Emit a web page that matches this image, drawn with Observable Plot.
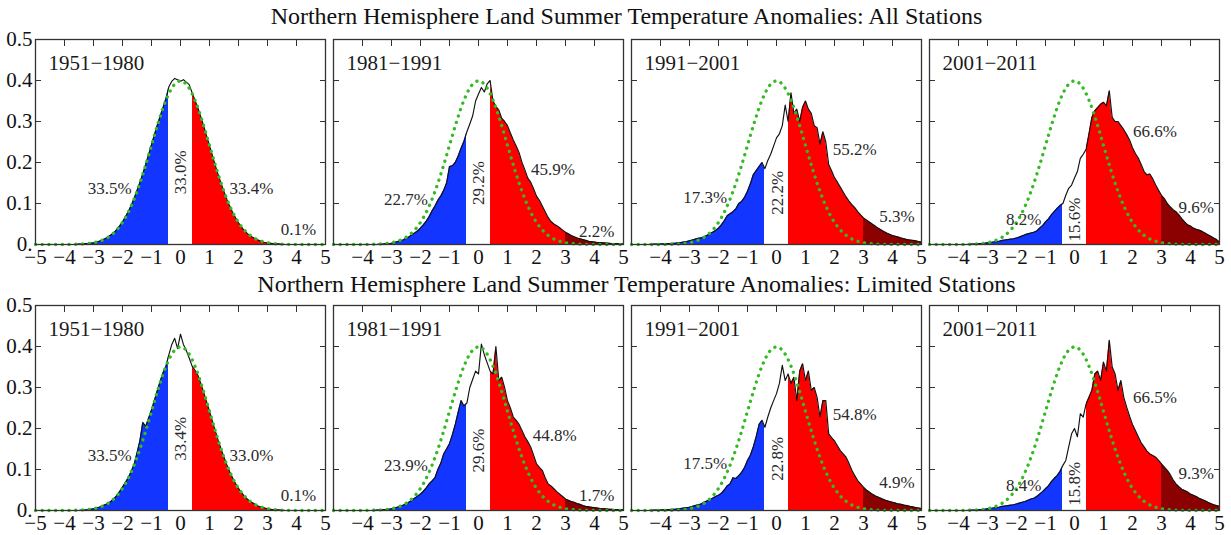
<!DOCTYPE html>
<html><head><meta charset="utf-8">
<script src="https://cdn.jsdelivr.net/npm/d3@7"></script>
<script src="https://cdn.jsdelivr.net/npm/@observablehq/plot@0.6"></script>
<style>
body{margin:0;background:#fff;}
#root{position:relative;width:1231px;height:535px;overflow:hidden;font-family:"Liberation Serif","Times New Roman",serif;color:#111;}
.title{position:absolute;left:0;width:1253px;text-align:center;font-size:24px;line-height:24px;white-space:nowrap;}
.panel{position:absolute;}
.panel text{font-family:"Liberation Serif","Times New Roman",serif;}
</style></head><body><div id="root"></div>
<script>
// ---------------- data ----------------
const rowTitles = [
  "Northern Hemisphere Land Summer Temperature Anomalies: All Stations",
  "Northern Hemisphere Land Summer Temperature Anomalies: Limited Stations"
];
const periods = ["1951\u22121980", "1981\u22121991", "1991\u22122001", "2001\u22122011"];
const xTickValues = [-5, -4, -3, -2, -1, 0, 1, 2, 3, 4, 5];
const yTickValues = [0, 0.1, 0.2, 0.3, 0.4, 0.5];
const yTickLabels = ["0.", "0.1", "0.2", "0.3", "0.4", "0.5"];
const bandEdges = [-0.43, 0.43, 3];
// anomaly grid (sigma units), bins every 0.1 from -5 to 5
const xGrid = d3.range(101).map(i => Math.round(-50 + i) / 10);

// reference normal curve, read at 0.25 steps from -5 to 5
const normalX = d3.range(41).map(i => -5 + i * 0.25);
const normalY = [
  0, 0, 0, 0, 0.0001, 0.0004, 0.0009, 0.0020, 0.0044, 0.0091,
  0.0175, 0.0317, 0.0540, 0.0863, 0.1295, 0.1826, 0.2420, 0.3011, 0.3521, 0.3867,
  0.3989,
  0.3867, 0.3521, 0.3011, 0.2420, 0.1826, 0.1295, 0.0863, 0.0540, 0.0317, 0.0175,
  0.0091, 0.0044, 0.0020, 0.0009, 0.0004, 0.0001, 0, 0, 0, 0
];

// All stations
const all1951 = [
  0,0,0,0,0,0,0,0,0,0,
  0,0,0,0,0,.001,.001,.002,.002,.003,
  .004,.006,.008,.011,.014,.018,.023,.028,.036,.045,
  .055,.067,.080,.095,.112,.131,.151,.172,.195,.219,
  .243,.267,.291,.313,.334,.356,.385,.398,.405,.402,
  .398,.402,.396,.390,.370,.352,.333,.311,.289,.265,
  .241,.217,.193,.170,.149,.129,.110,.093,.078,.065,
  .053,.043,.034,.027,.021,.017,.013,.010,.007,.005,
  .004,.003,.002,.002,.001,.001,0,0,0,0,
  0,0,0,0,0,0,0,0,0,0,
  0
];
const all1981 = [
  0,0,0,0,0,0,0,0,0,0,
  0,0,0,0,0,0,.001,.001,.002,.002,
  .003,.005,.007,.009,.011,.015,.018,.024,.028,.033,
  .040,.048,.057,.068,.082,.094,.108,.118,.132,.150,
  .190,.192,.200,.216,.235,.252,.275,.294,.314,.350,
  .367,.383,.372,.392,.400,.350,.337,.328,.308,.300,
  .290,.272,.255,.240,.224,.200,.182,.162,.152,.136,
  .118,.108,.094,.080,.066,.056,.050,.046,.041,.035,
  .030,.026,.022,.019,.016,.014,.012,.010,.008,.007,
  .006,.005,.0045,.004,.0035,.003,.0025,.002,.002,.0015,
  .001
];
const all1991 = [
  0,0,0,0,0,0,0,.001,.001,.001,
  .001,.002,.002,.002,.003,.003,.004,.005,.006,.007,
  .009,.011,.013,.015,.016,.019,.022,.026,.030,.034,
  .040,.048,.058,.070,.075,.080,.087,.100,.105,.115,
  .130,.148,.170,.180,.190,.200,.185,.205,.220,.240,
  .260,.270,.290,.340,.300,.370,.320,.330,.300,.335,
  .350,.330,.320,.290,.285,.245,.275,.250,.195,.180,
  .163,.152,.140,.128,.116,.106,.097,.090,.080,.072,
  .065,.060,.055,.050,.045,.040,.036,.032,.028,.025,
  .022,.020,.018,.016,.014,.012,.011,.010,.009,.007,
  .006
];
const all2001 = [
  0,0,0,0,0,0,0,0,0,0,
  0,0,0,0,.001,.001,.001,.002,.002,.003,
  .004,.005,.006,.007,.008,.010,.011,.012,.013,.014,
  .016,.018,.021,.024,.026,.028,.030,.033,.040,.046,
  .055,.062,.072,.080,.088,.095,.100,.120,.137,.145,
  .162,.178,.210,.220,.232,.270,.310,.326,.334,.342,
  .347,.338,.375,.310,.300,.300,.290,.280,.268,.255,
  .236,.222,.211,.195,.178,.170,.172,.160,.145,.132,
  .120,.112,.100,.092,.085,.080,.072,.063,.055,.048,
  .045,.040,.037,.035,.032,.028,.024,.020,.016,.012,
  .006
];
// Limited stations
const lim1951 = [
  0,0,0,0,0,0,0,0,0,0,
  0,0,0,0,0,0,.001,.001,.002,.003,
  .004,.006,.008,.011,.014,.017,.022,.028,.036,.046,
  .057,.068,.080,.095,.112,.140,.170,.215,.205,.225,
  .245,.268,.292,.315,.336,.352,.380,.405,.420,.395,
  .430,.405,.390,.372,.352,.342,.330,.310,.288,.265,
  .242,.218,.194,.171,.150,.130,.111,.094,.079,.066,
  .054,.044,.035,.028,.022,.018,.014,.010,.008,.006,
  .004,.003,.002,.002,.001,.001,0,0,0,0,
  0,0,0,0,0,0,0,0,0,0,
  0
];
const lim1981 = [
  0,0,0,0,0,0,0,0,0,0,
  0,0,0,0,0,.001,.001,.002,.002,.003,
  .004,.006,.008,.010,.013,.016,.020,.025,.030,.035,
  .040,.047,.055,.065,.072,.080,.100,.115,.138,.150,
  .163,.185,.210,.240,.268,.255,.262,.300,.320,.340,
  .333,.406,.380,.360,.340,.333,.400,.317,.325,.300,
  .268,.250,.228,.220,.210,.195,.180,.168,.155,.135,
  .114,.105,.098,.080,.065,.060,.053,.046,.040,.034,
  .028,.025,.022,.020,.017,.015,.012,.010,.009,.008,
  .007,.006,.005,.004,.004,.003,.003,.002,.002,.002,
  .002
];
const lim1991 = [
  0,0,0,0,0,0,0,.001,.001,.001,
  .001,.002,.002,.002,.003,.003,.004,.005,.006,.007,
  .008,.010,.012,.014,.016,.020,.023,.026,.030,.034,
  .037,.042,.050,.060,.065,.080,.078,.085,.093,.105,
  .122,.135,.155,.180,.210,.220,.203,.228,.250,.268,
  .285,.310,.354,.317,.333,.310,.325,.268,.340,.358,
  .317,.340,.293,.300,.276,.228,.268,.268,.187,.178,
  .170,.158,.146,.138,.130,.115,.098,.085,.073,.065,
  .057,.050,.045,.040,.036,.033,.030,.027,.024,.022,
  .020,.018,.016,.015,.013,.012,.010,.009,.007,.006,
  .005
];
const lim2001 = [
  0,0,0,0,0,0,0,0,0,0,
  0,0,0,0,.001,.001,.001,.002,.002,.003,
  .004,.005,.006,.007,.008,.010,.011,.012,.013,.014,
  .016,.018,.020,.022,.025,.028,.030,.034,.040,.046,
  .053,.060,.070,.078,.085,.095,.110,.122,.155,.187,
  .200,.180,.236,.228,.260,.276,.293,.333,.340,.317,
  .362,.340,.415,.350,.333,.293,.317,.276,.252,.230,
  .210,.195,.180,.165,.155,.145,.138,.134,.130,.122,
  .114,.106,.098,.088,.075,.065,.058,.052,.049,.045,
  .040,.037,.034,.030,.027,.024,.020,.017,.014,.012,
  .010
];

const seriesAll = [all1951, all1981, all1991, all2001];
const seriesLim = [lim1951, lim1981, lim1991, lim2001];

const pctAll = [
  ["33.5%", "33.0%", "33.4%", "0.1%"],
  ["22.7%", "29.2%", "45.9%", "2.2%"],
  ["17.3%", "22.2%", "55.2%", "5.3%"],
  ["8.2%", "15.6%", "66.6%", "9.6%"]
];
const pctLim = [
  ["33.5%", "33.4%", "33.0%", "0.1%"],
  ["23.9%", "29.6%", "44.8%", "1.7%"],
  ["17.5%", "22.8%", "54.8%", "4.9%"],
  ["8.4%", "15.8%", "66.5%", "9.3%"]
];
// label anchor points in data coordinates
const labelXAll = [[-2.44, 0, 2.45, 4.07], [-2.5, 0, 2.57, 4.08], [-2.46, 0.04, 2.7, 4.15], [-1.75, 0, 2.77, 4.2]];
const labelYAll = [[.137, .176, .137, .037], [.11, .15, .183, .032], [.114, .126, .232, .069], [.06, .061, .276, .09]];
const labelXLim = [[-2.44, 0, 2.45, 4.07], [-2.5, 0, 2.63, 4.08], [-2.46, 0.04, 2.7, 4.15], [-1.75, 0, 2.77, 4.2]];
const labelYLim = [[.134, .175, .134, .037], [.11, .146, .183, .037], [.114, .126, .234, .069], [.061, .065, .275, .091]];

// ---------------- layout / style ----------------
const COLORS = {blue: "#1236ff", white: "#ffffff", red: "#ff0000", dark: "#8b0000", green: "#33bb22", line: "#111", frame: "#333"};
const frameLeft = [35, 333, 631, 929];
const frameTop = [39, 305];
const FW = 290, FH = 205;
const FONT = '"Liberation Serif","Times New Roman",serif';
const root = document.getElementById("root");

[[rowTitles[0], 4, 0], [rowTitles[1], 272, 10]].forEach(([t, top, shift]) => {
  const d = document.createElement("div");
  d.className = "title"; d.style.top = top + "px"; d.style.left = shift + "px"; d.textContent = t;
  root.appendChild(d);
});

const NS = "http://www.w3.org/2000/svg";
let gidCount = 0;
function makePanel(ys, pcts, lx, ly, col, row) {
  const first = col === 0;
  const mL = first ? 35 : 4, mR = 9, mT = 2, mB = 30;
  const data = xGrid.map((x, k) => ({x, y: ys[k]}));
  const normal = normalX.map((x, k) => ({x, y: normalY[k]}));
  const lab = pcts.map((t, k) => ({t, x: lx[k], y: ly[k], v: k === 1}));
  const gid = "band" + (gidCount++);
  const xLabTicks = first ? xTickValues : xTickValues.slice(1);
  const marks = [
    Plot.areaY(data, {x: "x", y: "y", fill: `url(#${gid})`}),
    Plot.lineY(data, {x: "x", y: "y", stroke: COLORS.line, strokeWidth: 1.15}),
    Plot.lineY(normal, {x: "x", y: "y", stroke: COLORS.green, strokeWidth: 3.3, strokeDasharray: "0.1 6.6", strokeLinecap: "round", curve: "monotone-x"}),
    Plot.text(lab.filter(d => !d.v), {x: "x", y: "y", text: "t", fontSize: 17, fontFamily: FONT, fill: "#2a2a2a"}),
    Plot.text(lab.filter(d => d.v), {x: "x", y: "y", text: "t", rotate: -90, fontSize: 17, fontFamily: FONT, fill: "#2a2a2a"}),
    Plot.text([periods[col]], {frameAnchor: "top-left", dx: 13, dy: 16, lineAnchor: "top", textAnchor: "start", fontSize: 21, fontFamily: FONT, fill: "#1a1a1a"}),
    Plot.frame({stroke: COLORS.frame, strokeWidth: 1.3}),
    Plot.axisX({anchor: "top", ticks: xTickValues, tickSize: -6, tickFormat: () => "", label: null, stroke: COLORS.frame}),
    Plot.axisY({anchor: "left", ticks: yTickValues, tickSize: -6, tickFormat: () => "", label: null, stroke: COLORS.frame}),
    Plot.axisY({anchor: "right", ticks: yTickValues, tickSize: -6, tickFormat: () => "", label: null, stroke: COLORS.frame}),
    Plot.axisX({anchor: "bottom", ticks: xLabTicks, tickSize: 0, tickPadding: 5, fontSize: 21, fontFamily: FONT, fill: "#111", label: null,
      tickFormat: d => (d < 0 ? "\u2212" + Math.abs(d) : String(d))})
  ];
  if (first) marks.push(Plot.axisY({anchor: "left", ticks: yTickValues, tickSize: 0, tickPadding: 3, fontSize: 21, fontFamily: FONT, fill: "#111", label: null,
    tickFormat: d => yTickLabels[yTickValues.indexOf(d)]}));
  const W = mL + FW + mR, H = mT + FH + mB;
  const svg = Plot.plot({
    width: W, height: H, marginLeft: mL, marginRight: mR, marginTop: mT, marginBottom: mB,
    x: {domain: [-5, 5], label: null}, y: {domain: [0, 0.5], label: null},
    style: {background: "transparent", overflow: "visible", fontFamily: FONT, fontSize: "21px", color: "#111"},
    marks
  });
  // colour bands defined through the x scale
  const xs = svg.scale("x");
  const cuts = bandEdges.map(v => xs.apply(v) / W);
  const cols = [COLORS.blue, COLORS.white, COLORS.red, COLORS.dark];
  const defs = document.createElementNS(NS, "defs");
  const lg = document.createElementNS(NS, "linearGradient");
  lg.setAttribute("id", gid);
  lg.setAttribute("gradientUnits", "userSpaceOnUse");
  lg.setAttribute("x1", 0); lg.setAttribute("y1", 0);
  lg.setAttribute("x2", W); lg.setAttribute("y2", 0);
  const stops = [[0, cols[0]], [cuts[0], cols[0]], [cuts[0], cols[1]], [cuts[1], cols[1]], [cuts[1], cols[2]], [cuts[2], cols[2]], [cuts[2], cols[3]], [1, cols[3]]];
  stops.forEach(([o, c]) => {
    const s = document.createElementNS(NS, "stop");
    s.setAttribute("offset", o); s.setAttribute("stop-color", c);
    lg.appendChild(s);
  });
  defs.appendChild(lg);
  svg.insertBefore(defs, svg.firstChild);
  svg.classList.add("panel");
  svg.style.position = "absolute";
  svg.style.left = (frameLeft[col] - mL) + "px";
  svg.style.top = (frameTop[row] - mT) + "px";
  root.appendChild(svg);
}

for (let c = 0; c < 4; c++) {
  makePanel(seriesAll[c], pctAll[c], labelXAll[c], labelYAll[c], c, 0);
  makePanel(seriesLim[c], pctLim[c], labelXLim[c], labelYLim[c], c, 1);
}
</script></body></html>
